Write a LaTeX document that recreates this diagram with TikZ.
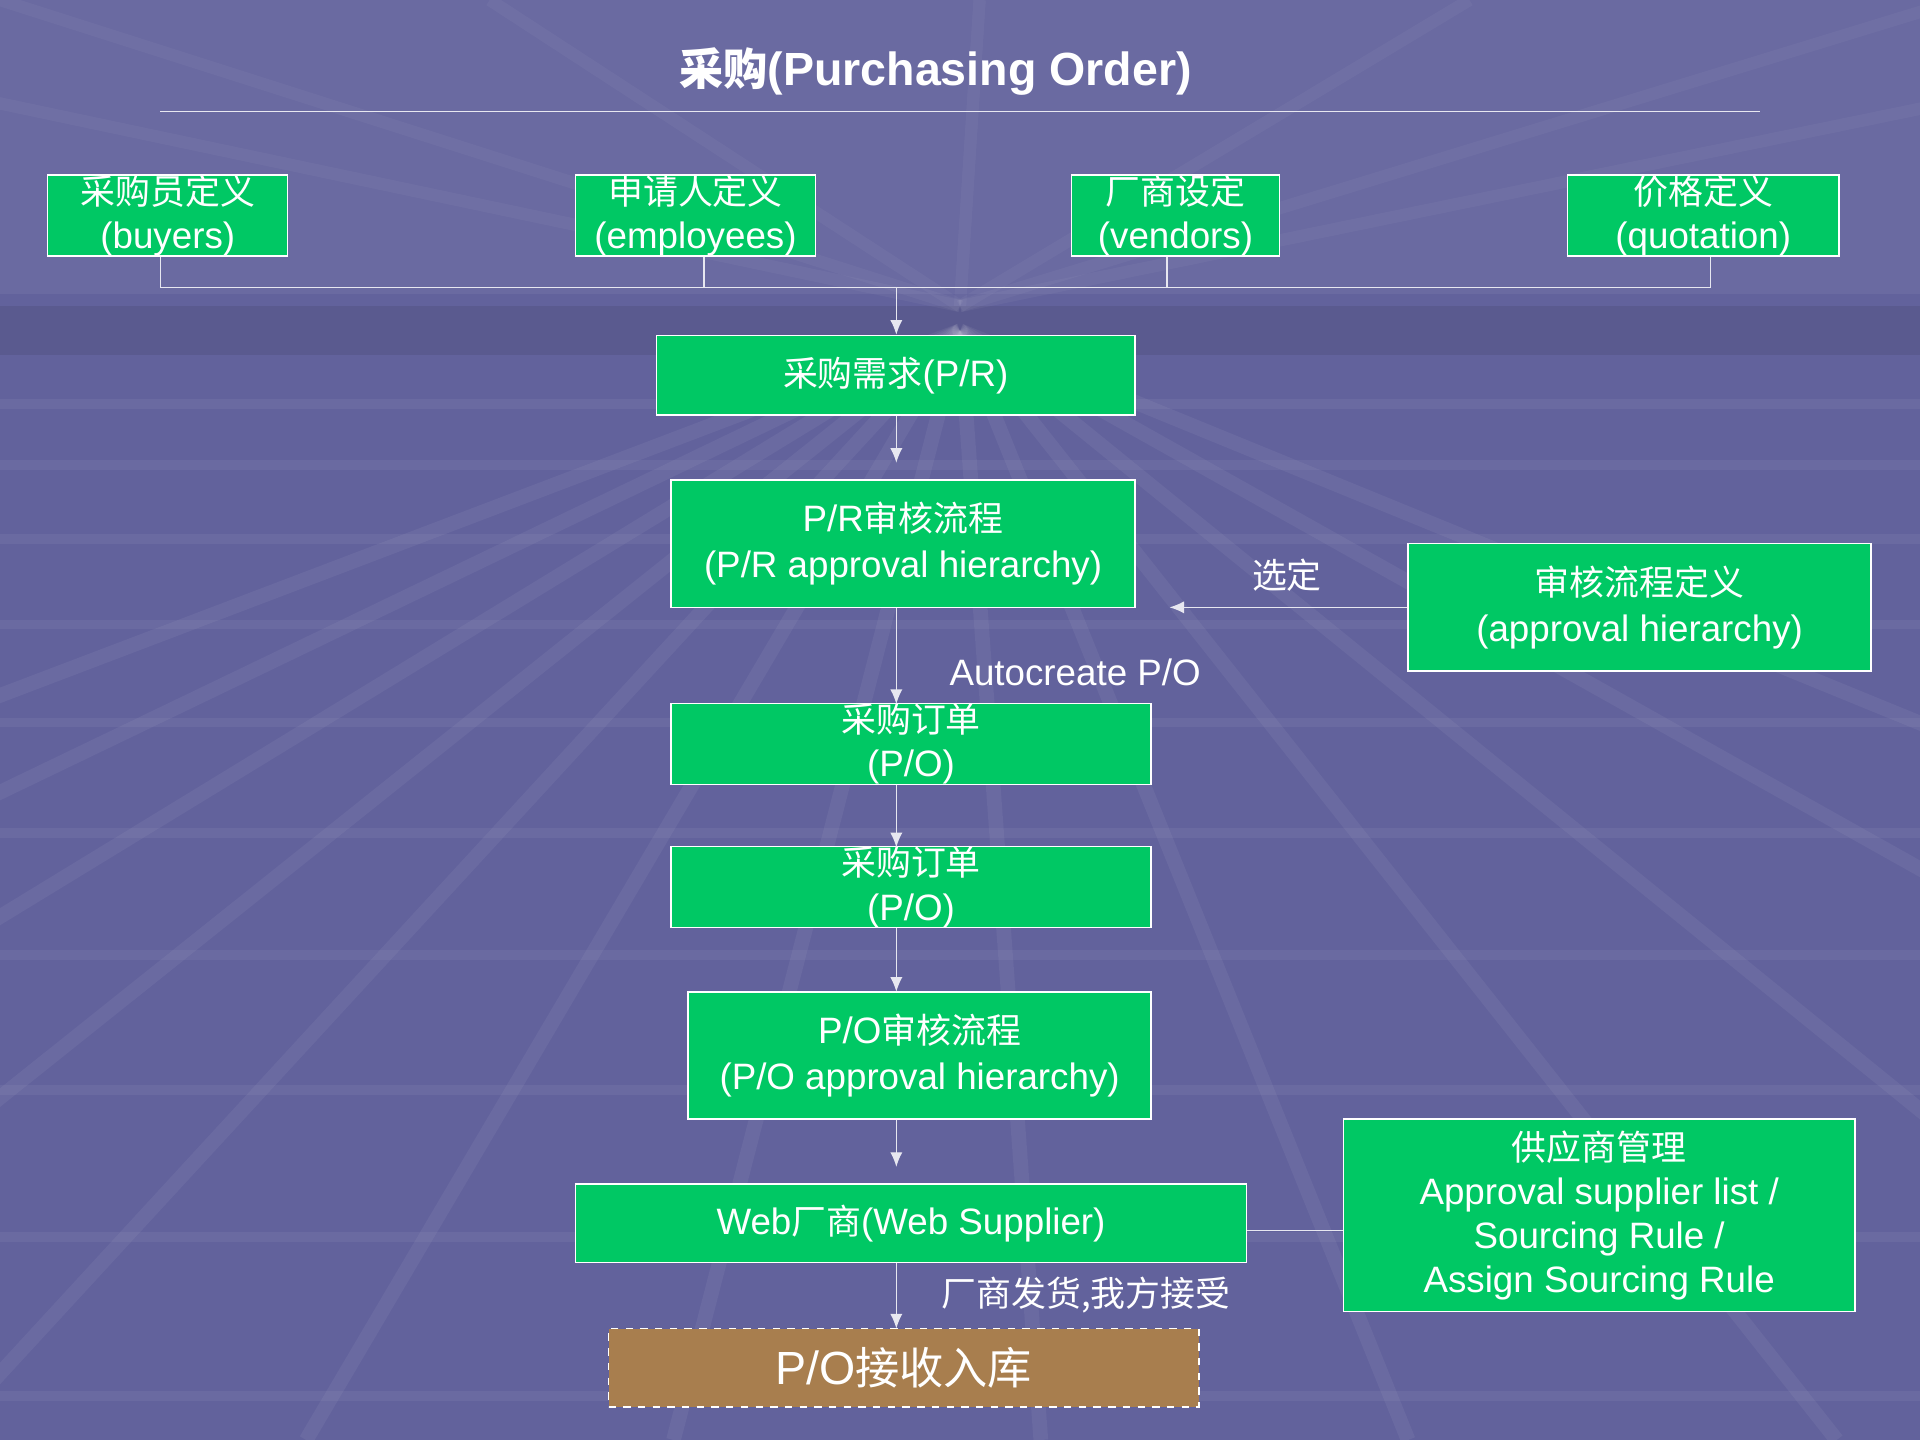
\documentclass[tikz,border=0pt]{standalone}
\usepackage{fontspec}
\setmainfont{Liberation Sans}
\newfontfamily\cjk{Noto Sans CJK SC}[Scale=0.95]
\newcommand{\zh}[1]{{\cjk #1}}
\definecolor{bg}{HTML}{62629C}
\definecolor{bx}{HTML}{00C864}
\definecolor{rc}{HTML}{A87E4E}
\begin{document}
\begin{tikzpicture}[x=0.5pt,y=-0.5pt,
 box/.style={draw=white,fill=bx,text=white,align=center,inner sep=0pt,font=\fontsize{15}{18}\selectfont,line width=0.6pt},
 ln/.style={draw=white!85!bg,line width=0.6pt},
 ar/.style={ln,-{Latex[length=6pt,width=5pt]}},
 lb/.style={text=white,font=\fontsize{15}{18}\selectfont}]
\usetikzlibrary{arrows.meta}
\fill[bg] (0,0) rectangle (1568,1176);
\useasboundingbox (0,0) rectangle (1568,1176);
\fill[white,opacity=0.05] (0,0) rectangle (1568,240);
\fill[black,opacity=0.08] (0,250) rectangle (1568,290);
\foreach \x in {-1600,-1100,-700,-350,-50,250,550,850,1150,1500,1900,2400,3000}
  \draw[white,opacity=0.05,line width=6pt] (784,270) -- (\x,1176);
\foreach \y in {330,380,440,510,590,680,780,890,1010,1140}
  \draw[white,opacity=0.05,line width=4pt] (0,\y) -- (1568,\y);
\foreach \x in {-400,0,400,800,1200,1600,2000}
  \draw[white,opacity=0.04,line width=5pt] (784,250) -- (\x,0);
\node[text=white,font=\bfseries\fontsize{19}{23}\selectfont] (title) at (764,58) {\zh{采购}(Purchasing Order)};
\coordinate (tl) at (131,91); \coordinate (tr) at (1437,91);
\draw[ln] (tl) -- (tr);
\node[box,minimum width=98pt,minimum height=33pt] (b1) at (137,176) {\zh{采购员定义}\\(buyers)};
\node[box,minimum width=98pt,minimum height=33pt] (b2) at (568,176) {\zh{申请人定义}\\(employees)};
\node[box,minimum width=85pt,minimum height=33pt] (b3) at (960,176) {\zh{厂商设定}\\(vendors)};
\node[box,minimum width=111pt,minimum height=33pt] (b4) at (1391,176) {\zh{价格定义}\\(quotation)};
\node[box,minimum width=195.5pt,minimum height=32.5pt] (pr) at (731.5,306.5) {\zh{采购需求}(P/R)};
\node[box,minimum width=189.5pt,minimum height=52pt] (pra) at (737.5,444) {P/R\zh{审核流程}\\[1pt](P/R approval hierarchy)};
\node[box,minimum width=189pt,minimum height=52pt] (ah) at (1339,496) {\zh{审核流程定义}\\[1pt](approval hierarchy)};
\node[box,minimum width=196pt,minimum height=32.5pt] (po1) at (744,607.5) {\zh{采购订单}\\(P/O)};
\node[box,minimum width=196pt,minimum height=32.5pt] (po2) at (744,724.5) {\zh{采购订单}\\(P/O)};
\node[box,minimum width=189pt,minimum height=52pt] (poa) at (751,862) {P/O\zh{审核流程}\\[1pt](P/O approval hierarchy)};
\node[box,minimum width=274pt,minimum height=32pt] (web) at (744,999) {Web\zh{厂商}(Web Supplier)};
\node[box,minimum width=209pt,minimum height=78.5pt] (sm) at (1306,992.5) {\zh{供应商管理}\\Approval supplier list /\\Sourcing Rule /\\Assign Sourcing Rule};
\node[box,fill=rc,dashed,minimum width=241pt,minimum height=32pt,font=\fontsize{19}{23}\selectfont] (rcv) at (738,1117) {P/O\zh{接收入库}};
\coordinate (j1) at (131,235); \coordinate (j4) at (1397,235); \coordinate (jc) at (732,235);
\draw[ln] (b1.south -| j1) -- (j1) -- (j4) -- (b4.south -| j4);
\draw[ln] (b2.south -| 575,0) -- (575,235);
\draw[ln] (b3.south -| 953,0) -- (953,235);
\draw[ar] (jc) -- (jc |- pr.north);
\coordinate (a1) at (732,378);
\draw[ar] (pr.south -| a1) -- (a1);
\draw[ar] (pra.south -| 732,0) -- (732,575);
\node[lb] (auto) at (878,549) {Autocreate P/O};
\coordinate (a2) at (955,496);
\draw[ar] (ah.west) -- (a2);
\node[lb] (sel) at (1051,470) {\zh{选定}};
\draw[ar] (po1.south -| 732,0) -- (732,692);
\draw[ar] (po2.south -| 732,0) -- (732,810);
\coordinate (a3) at (732,953);
\draw[ar] (poa.south -| a3) -- (a3);
\draw[ar] (web.south -| 732,0) -- (732,1085);
\node[lb] (ship) at (887,1058) {\zh{厂商发货,我方接受}};
\draw[ln] (web.east |- 0,1005) -- (sm.west |- 0,1005);
\end{tikzpicture}
\end{document}
